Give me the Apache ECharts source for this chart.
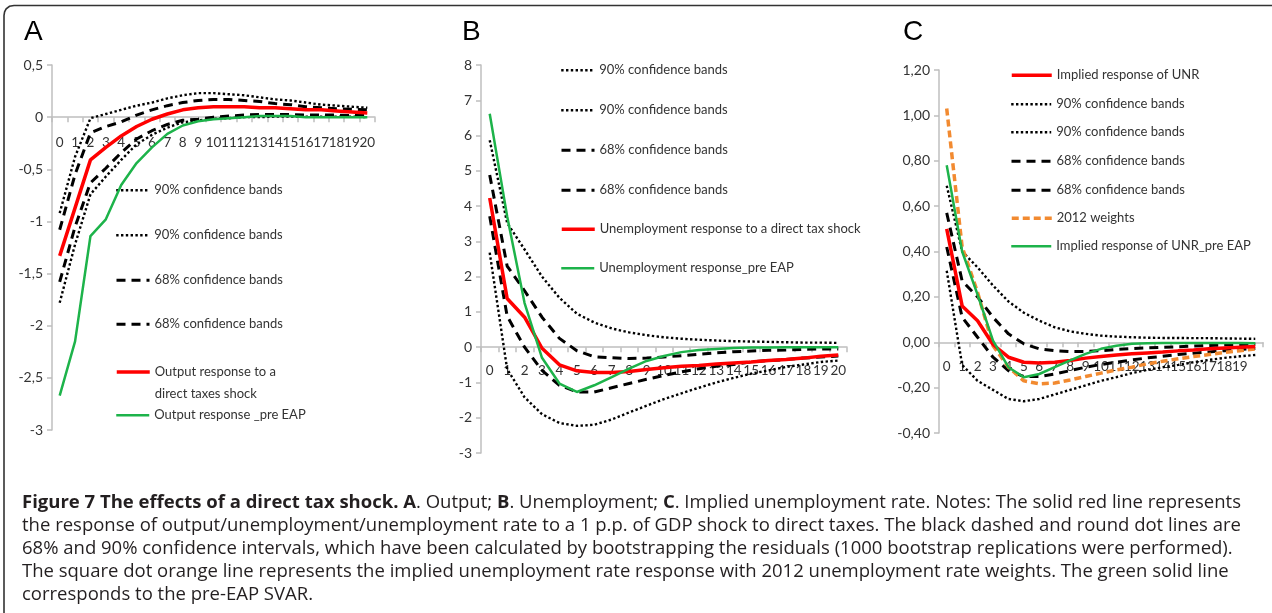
<!DOCTYPE html>
<html>
<head>
<meta charset="utf-8">
<script src="https://cdn.jsdelivr.net/npm/echarts@6/dist/echarts.min.js"></script>
<style>
html,body{margin:0;padding:0;background:#fff;}
#chart{width:1272px;height:613px;}
</style>
</head>
<body>
<div id="chart"></div>
<script>
// ---------- data ----------
const catsAB = ['0','1','2','3','4','5','6','7','8','9','10','11','12','13','14','15','16','17','18','19','20'];
const catsC  = ['0','1','2','3','4','5','6','7','8','9','10','11','12','13','14','15','16','17','18','19',''];

// Panel A: Output
const a90Upper = [-0.92,-0.38,-0.01,0.03,0.07,0.11,0.14,0.18,0.21,0.23,0.23,0.22,0.21,0.19,0.17,0.16,0.14,0.12,0.11,0.10,0.09];
const a90Lower = [-1.78,-1.22,-0.74,-0.57,-0.41,-0.26,-0.17,-0.10,-0.05,-0.03,-0.015,-0.01,0.0,0.0,0.005,0.005,0.005,0.005,0.005,0.005,0.0];
const a68Upper = [-1.08,-0.55,-0.15,-0.09,-0.045,0.02,0.07,0.11,0.14,0.16,0.17,0.17,0.16,0.15,0.13,0.12,0.10,0.09,0.08,0.075,0.07];
const a68Lower = [-1.58,-1.05,-0.63,-0.49,-0.34,-0.21,-0.13,-0.07,-0.03,-0.02,0.0,0.01,0.02,0.025,0.025,0.025,0.02,0.02,0.02,0.015,0.015];
const aRed     = [-1.33,-0.87,-0.41,-0.29,-0.18,-0.09,-0.02,0.03,0.07,0.09,0.10,0.10,0.10,0.09,0.09,0.08,0.07,0.07,0.06,0.05,0.04];
const aGreen   = [-2.67,-2.15,-1.14,-0.98,-0.65,-0.44,-0.29,-0.16,-0.08,-0.04,-0.02,-0.01,0.0,0.01,0.01,0.01,0.0,0.0,0.0,0.0,0.0];

// Panel B: Unemployment
const b90Upper = [5.87,3.52,2.77,2.0,1.4,0.95,0.70,0.53,0.42,0.34,0.28,0.24,0.21,0.19,0.17,0.16,0.15,0.14,0.13,0.13,0.12];
const b90Lower = [2.68,-0.62,-1.42,-1.90,-2.15,-2.23,-2.20,-2.05,-1.85,-1.66,-1.47,-1.31,-1.15,-1.00,-0.87,-0.75,-0.66,-0.56,-0.49,-0.42,-0.38];
const b68Upper = [4.88,2.30,1.60,0.85,0.25,-0.10,-0.27,-0.30,-0.32,-0.31,-0.28,-0.24,-0.20,-0.16,-0.13,-0.11,-0.09,-0.08,-0.06,-0.05,-0.05];
const b68Lower = [3.71,0.88,0.0,-0.66,-1.08,-1.27,-1.27,-1.15,-1.03,-0.91,-0.80,-0.70,-0.61,-0.54,-0.49,-0.42,-0.38,-0.35,-0.31,-0.28,-0.25];
const bRed     = [4.23,1.38,0.85,-0.03,-0.50,-0.67,-0.72,-0.72,-0.69,-0.63,-0.58,-0.54,-0.52,-0.48,-0.45,-0.42,-0.38,-0.35,-0.31,-0.26,-0.22];
const bGreen   = [6.62,3.71,1.25,-0.30,-1.03,-1.27,-1.08,-0.85,-0.61,-0.39,-0.25,-0.14,-0.08,-0.05,-0.02,-0.01,-0.01,0.0,0.0,0.0,0.0];

// Panel C: Implied unemployment rate
const c90Upper = [0.69,0.40,0.33,0.25,0.18,0.13,0.095,0.066,0.048,0.037,0.029,0.025,0.022,0.02,0.019,0.019,0.018,0.018,0.017,0.016,0.015];
const c90Lower = [0.315,-0.10,-0.17,-0.21,-0.25,-0.26,-0.25,-0.23,-0.21,-0.19,-0.17,-0.154,-0.136,-0.122,-0.11,-0.10,-0.088,-0.078,-0.069,-0.062,-0.056];
const c68Upper = [0.57,0.27,0.20,0.11,0.037,-0.007,-0.029,-0.037,-0.041,-0.041,-0.037,-0.032,-0.028,-0.025,-0.022,-0.02,-0.017,-0.014,-0.012,-0.01,-0.009];
const c68Lower = [0.42,0.11,0.022,-0.066,-0.125,-0.151,-0.151,-0.14,-0.125,-0.11,-0.098,-0.088,-0.078,-0.069,-0.062,-0.054,-0.048,-0.043,-0.037,-0.032,-0.028];
const cRed     = [0.50,0.16,0.095,-0.01,-0.066,-0.088,-0.091,-0.088,-0.08,-0.07,-0.063,-0.056,-0.051,-0.047,-0.043,-0.038,-0.034,-0.029,-0.025,-0.022,-0.019];
const cOrange  = [1.03,0.42,0.22,-0.015,-0.11,-0.17,-0.183,-0.18,-0.166,-0.151,-0.136,-0.122,-0.11,-0.095,-0.084,-0.073,-0.063,-0.054,-0.045,-0.037,-0.029];
const cGreen   = [0.78,0.40,0.21,0.007,-0.11,-0.154,-0.14,-0.11,-0.08,-0.051,-0.029,-0.015,-0.007,-0.004,-0.003,-0.003,-0.003,-0.003,-0.003,-0.003,-0.004];

// names
const n90 = '90% confidence bands';
const n68 = '68% confidence bands';
const nARed = 'Output response to a\ndirect taxes shock';
const nAGreen = 'Output response _pre EAP';
const nBRed = 'Unemployment response to a direct tax shock';
const nBGreen = 'Unemployment response_pre EAP';
const nCRed = 'Implied response of UNR';
const nCOrange = '2012 weights';
const nCGreen = 'Implied response of UNR_pre EAP';

const panelLetters = ['A','B','C'];
const captionLines = [
  '{b|Figure 7 The effects of a direct tax shock. A}. Output; {b|B}. Unemployment; {b|C}. Implied unemployment rate. Notes: The solid red line represents',
  'the response of output/unemployment/unemployment rate to a 1 p.p. of GDP shock to direct taxes. The black dashed and round dot lines are',
  '68% and 90% confidence intervals, which have been calculated by bootstrapping the residuals (1000 bootstrap replications were performed).',
  'The square dot orange line represents the implied unemployment rate response with 2012 unemployment rate weights. The green solid line',
  'corresponds to the pre-EAP SVAR.'
];

// ---------- styles ----------
const FONT = 'Lato, "Liberation Sans", sans-serif';
const styles = {
  dot:   {color:'#000', width:2.4, type:[2.4,2.4]},
  dash:  {color:'#000', width:3, type:[9,6]},
  red:   {color:'#ff0000', width:3.5, type:'solid'},
  green: {color:'#1db34a', width:2.5, type:'solid'},
  orange:{color:'#f28a30', width:3.5, type:[7,4]}
};

const grids = [
  {left:52, top:65, width:323, height:365},
  {left:481, top:65, width:366, height:388},
  {left:939, top:70, width:324, height:363}
];
const yCfg = [
  {min:-3, max:0.5, interval:0.5},
  {min:-3, max:8, interval:1},
  {min:-0.4, max:1.2, interval:0.2}
];

const axisLineStyle = {color:'#bfbfbf', width:1.5};
const labelStyle = {color:'#333', fontFamily:FONT, fontSize:14};

const xAxes = [catsAB, catsAB, catsC].map((cats, i) => ({
  type:'category', gridIndex:i, data:cats, boundaryGap:true, position:'bottom',
  // move the category axis up so that it crosses the value axis at 0
  offset: -grids[i].height * (0 - yCfg[i].min) / (yCfg[i].max - yCfg[i].min),
  axisLine:{show:true, onZero:false, lineStyle:axisLineStyle},
  axisTick:{show:true, length:5, lineStyle:axisLineStyle, interval:0},
  axisLabel:Object.assign({interval:0, margin:[18,16,17][i]}, labelStyle, {fontSize:13.5}),
  splitLine:{show:false}
}));

const fmtA = v => String(v).replace('.', ',');
const fmtC = v => (Math.abs(v) < 1e-9 ? 0 : v).toFixed(2).replace('.', ',');
const fmts = [fmtA, fmtA, fmtC];
const yAxes = yCfg.map((a, i) => ({
  type:'value', gridIndex:i, min:a.min, max:a.max, interval:a.interval,
  axisLine:{show:true, lineStyle:axisLineStyle},
  axisTick:{show:true, length:5, lineStyle:axisLineStyle},
  axisLabel:Object.assign({formatter:fmts[i], margin:9}, labelStyle),
  splitLine:{show:false}
}));

function mk(name, data, panel, style, z) {
  return {
    type:'line', name:name, data:data, xAxisIndex:panel, yAxisIndex:panel,
    symbol:'none', showSymbol:false, smooth:false, z:z || 2,
    lineStyle:Object.assign({}, style), itemStyle:{color:style.color},
    emphasis:{disabled:true}, silent:true, animation:false
  };
}

const series = [
  mk(n90, a90Upper, 0, styles.dot), mk(n90, a90Lower, 0, styles.dot),
  mk(n68, a68Upper, 0, styles.dash), mk(n68, a68Lower, 0, styles.dash),
  mk(nARed, aRed, 0, styles.red, 3), mk(nAGreen, aGreen, 0, styles.green, 4),

  mk(n90, b90Upper, 1, styles.dot), mk(n90, b90Lower, 1, styles.dot),
  mk(n68, b68Upper, 1, styles.dash), mk(n68, b68Lower, 1, styles.dash),
  mk(nBRed, bRed, 1, styles.red, 3), mk(nBGreen, bGreen, 1, styles.green, 4),

  mk(n90, c90Upper, 2, styles.dot), mk(n90, c90Lower, 2, styles.dot),
  mk(n68, c68Upper, 2, styles.dash), mk(n68, c68Lower, 2, styles.dash),
  mk(nCOrange, cOrange, 2, styles.orange, 3),
  mk(nCRed, cRed, 2, styles.red, 3), mk(nCGreen, cGreen, 2, styles.green, 4)
];

// legend items: [name, iconLeft, centerY, iconWidth, style, twoLine]
const legendItems = [
  [n90, 115, 192, 33, styles.dot], [n90, 115, 237, 33, styles.dot],
  [n68, 115, 282, 33, styles.dash], [n68, 115, 326, 33, styles.dash],
  [nARed, 115, 372, 33, styles.red, true], [nAGreen, 115, 417, 33, styles.green],

  [n90, 560, 72, 33, styles.dot], [n90, 560, 112, 33, styles.dot],
  [n68, 560, 152, 33, styles.dash], [n68, 560, 192, 33, styles.dash],
  [nBRed, 560, 231, 33, styles.red], [nBGreen, 560, 270, 33, styles.green],

  [nCRed, 1010, 77, 40, styles.red], [n90, 1010, 106, 40, styles.dot],
  [n90, 1010, 134, 40, styles.dot], [n68, 1010, 163, 40, styles.dash],
  [n68, 1010, 192, 40, styles.dash], [nCOrange, 1010, 220, 40, styles.orange],
  [nCGreen, 1010, 248, 40, styles.green]
];
const IH = 18;
const legends = legendItems.map(it => {
  const two = !!it[5];
  const ts = {color:'#333', fontFamily:FONT, fontSize:13};
  if (two) { ts.lineHeight = 22; }
  return {
    left: it[1], top: two ? it[2] - 33 : it[2] - IH / 2,
    orient:'vertical', itemWidth: it[3], itemHeight: IH, itemGap: 0,
    padding: 0, selectedMode:false,
    data:[it[0]],
    formatter: two ? (n => '\n' + n) : undefined,
    lineStyle:{color:it[4].color, width:it[4].width, type:it[4].type},
    itemStyle:{opacity:0, borderWidth:0},
    textStyle: ts
  };
});

const graphics = [
  {type:'polyline', silent:true,
   shape:{points:[[1272,5.5],[14,5.5],[9.5,6.3],[6.2,8.8],[4.6,11.8],[4,15.5],[4,613]]},
   style:{fill:null, stroke:'#333', lineWidth:1.6}}
];
[[24,33],[462,33],[903,33]].forEach((p, i) => {
  graphics.push({type:'text', silent:true, left:p[0], top:p[1]-15,
    style:{text:panelLetters[i], font:'28px "Liberation Sans", sans-serif', fill:'#000'}});
});
const capY = [503, 526, 549, 572, 595];
const CAPF = '"Open Sans", sans-serif';
captionLines.forEach((t, i) => {
  graphics.push({type:'text', silent:true, x:22, y:capY[i],
    style:{text:t, fontFamily:CAPF, fontSize:18.5, fill:'#231f20',
      verticalAlign:'middle', align:'left',
      rich:{b:{fontWeight:'bold', fontFamily:CAPF, fontSize:18.5, fill:'#231f20'}}}});
});

const chart = echarts.init(document.getElementById('chart'), null, {renderer:'canvas'});
chart.setOption({
  backgroundColor:'#fff',
  animation:false,
  grid:grids,
  xAxis:xAxes,
  yAxis:yAxes,
  legend:legends,
  series:series,
  graphic:graphics
});
</script>
</body>
</html>
